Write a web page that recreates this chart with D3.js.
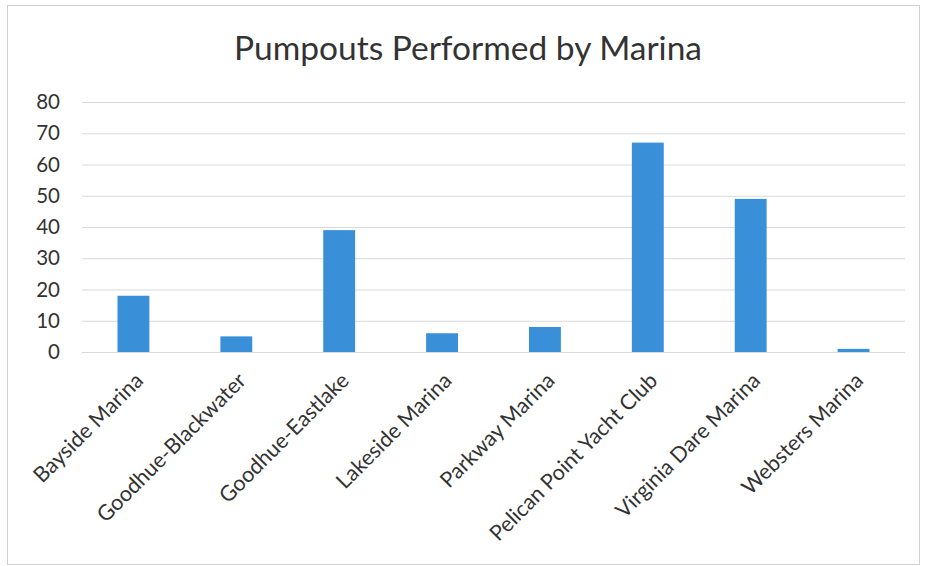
<!DOCTYPE html>
<html>
<head>
<meta charset="utf-8">
<script src="https://cdn.jsdelivr.net/npm/d3@7"></script>
<style>
  body { margin: 0; background: #fff; }
  text { font-family: Lato, "Open Sans", sans-serif; }
</style>
</head>
<body>
<svg id="chart" width="925" height="566"></svg>
<script>
const marinas = [
  "Bayside Marina",
  "Goodhue-Blackwater",
  "Goodhue-Eastlake",
  "Lakeside Marina",
  "Parkway Marina",
  "Pelican Point Yacht Club",
  "Virginia Dare Marina",
  "Websters Marina"
];
const pumpouts = [18, 5, 39, 6, 8, 67, 49, 1];
const yTicks = [0, 10, 20, 30, 40, 50, 60, 70, 80];

const svg = d3.select("#chart");
const margin = { top: 102, right: 20, bottom: 214, left: 82 };
const width = 925 - margin.left - margin.right;
const height = 566 - margin.top - margin.bottom;

// outer chart frame
svg.append("rect")
  .attr("x", 7.5).attr("y", 5.5)
  .attr("width", 912).attr("height", 559)
  .attr("fill", "#fff")
  .attr("stroke", "#d0d0d0")
  .attr("stroke-width", 1);

svg.append("text")
  .attr("x", 468)
  .attr("y", 60)
  .attr("text-anchor", "middle")
  .attr("font-size", 33.5)
  .attr("fill", "#333")
  .text("Pumpouts Performed by Marina");

const g = svg.append("g").attr("transform", `translate(${margin.left},${margin.top})`);

const x = d3.scaleBand()
  .domain(marinas)
  .range([0, width])
  .paddingInner(0.69)
  .paddingOuter(0.345);

const y = d3.scaleLinear()
  .domain([0, 80])
  .range([height, 0]);

// gridlines
g.append("g")
  .selectAll("line")
  .data(yTicks)
  .join("line")
  .attr("x1", 0).attr("x2", width)
  .attr("y1", d => y(d) + 0.5).attr("y2", d => y(d) + 0.5)
  .attr("stroke", "#d9d9d9")
  .attr("stroke-width", 1);

// y axis labels
const yAxis = g.append("g")
  .call(d3.axisLeft(y).tickValues(yTicks).tickSize(0).tickPadding(22));
yAxis.select(".domain").remove();
yAxis.selectAll("text")
  .attr("font-size", 20.5)
  .attr("fill", "#333")
  .style("font-family", "Lato, sans-serif");

// bars
g.selectAll("rect.bar")
  .data(marinas.map((m, i) => ({ name: m, value: pumpouts[i] })))
  .join("rect")
  .attr("class", "bar")
  .attr("x", d => x(d.name))
  .attr("y", d => y(d.value))
  .attr("width", x.bandwidth())
  .attr("height", d => height - y(d.value))
  .attr("fill", "#3a8fd9");

// x axis labels
const xAxis = g.append("g")
  .attr("transform", `translate(0,${height})`)
  .call(d3.axisBottom(x).tickSize(0).tickPadding(0));
xAxis.select(".domain").remove();
xAxis.selectAll("text")
  .attr("font-size", 21.5)
  .attr("fill", "#333")
  .style("font-family", "Lato, sans-serif")
  .style("text-anchor", "end")
  .attr("dy", 0)
  .attr("transform", "translate(11,30) rotate(-45)");
</script>
</body>
</html>
